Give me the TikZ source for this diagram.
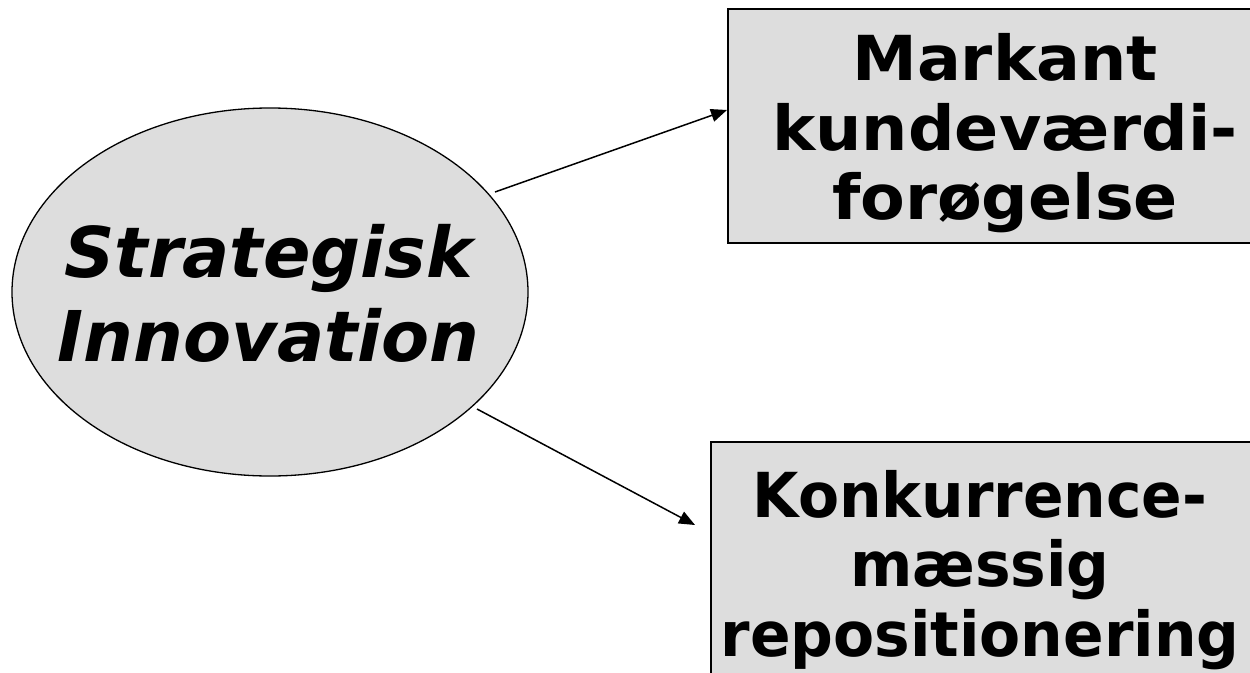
\documentclass[tikz,border=0pt]{standalone}
\usepackage{fontspec}
\setmainfont{DejaVu Sans}
\newfontfamily\widesans{DejaVu Sans}[FakeStretch=1.05]
\newfontfamily\narrowsans{DejaVu Sans}[FakeStretch=0.965]
\usetikzlibrary{shapes.geometric,arrows.meta}
\definecolor{boxgray}{HTML}{DDDDDD}
\begin{document}
\begin{tikzpicture}[x=1pt,y=-1pt,
  ellbox/.style={ellipse,fill=boxgray,draw=black,line width=1.3pt,inner sep=0pt},
  rectbox/.style={rectangle,fill=boxgray,draw=black,line width=2pt,inner sep=0pt},
  boxtext/.style={align=center,inner sep=0pt},
  elltext/.style={align=center,inner sep=0pt,font=\fontsize{70}{84}\selectfont\bfseries\itshape},
  arr/.style={line width=1.5pt,-{Triangle[length=16pt,width=13pt]}}]
\useasboundingbox (0,0) rectangle (1250,672);
\begin{scope}
\clip (0,0) rectangle (1250,672);
\node[ellbox,minimum width=516pt,minimum height=368pt] (ell) at (270,292) {};
\node[rectbox,minimum width=572pt,minimum height=234pt] (top) at (1014,126) {};
\node[rectbox,minimum width=589pt,minimum height=288pt] (bot) at (1005.5,586) {};
\node[elltext] (t1) at (268.7,293.5) {Strategisk\\Innovation};
\node[boxtext,font=\widesans\fontsize{62}{69.5}\selectfont\bfseries] (t2) at (1005,133.3) {Markant\\kundeværdi-\\forøgelse};
\node[boxtext,font=\narrowsans\fontsize{62}{69.5}\selectfont\bfseries] (t3) at (980,569.8) {Konkurrence-\\mæssig\\repositionering};
\coordinate (s1) at (495,192);
\coordinate (s2) at (477,409);
\coordinate (e2) at (695,525);
\draw[arr] (s1) -- ([yshift=16pt]top.west);
\draw[arr] (s2) -- (e2);
\end{scope}
\end{tikzpicture}
\end{document}
